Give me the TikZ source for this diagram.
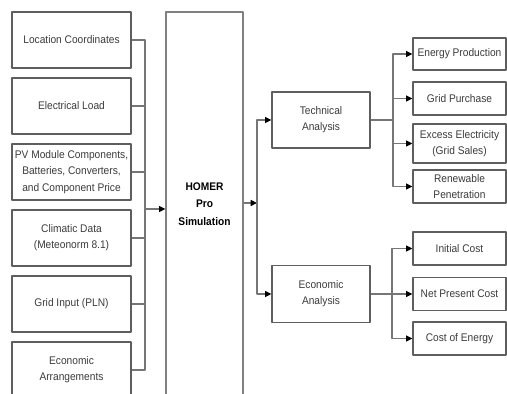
\documentclass[tikz,border=0pt]{standalone}
\usepackage{fontspec}
\setmainfont{Liberation Sans}[FakeStretch=0.92]
\usetikzlibrary{arrows.meta}
\definecolor{txtgray}{HTML}{3A3A3A}
\definecolor{linegray}{HTML}{767676}
\definecolor{boxgray}{HTML}{5E5E5E}
\begin{document}
\begin{tikzpicture}[x=0.02cm,y=-0.02cm,>={Triangle[length=3.6pt,width=3.4pt,color=black]},
  line join=round,font=\fontsize{6.3}{9.2}\selectfont,
  box/.style={draw=boxgray,line width=0.75pt,text=txtgray,align=center,inner sep=0pt},
  inbox/.style={box,minimum width=119*0.02cm,minimum height=56*0.02cm},
  outbox/.style={box,minimum width=93*0.02cm},
  link/.style={draw=linegray,line width=0.8pt}]
\useasboundingbox (0,0) rectangle (507,394);
\clip (0,0) rectangle (507,394);
% inputs
\node[inbox] (loc) at (71.5,40) {Location Coordinates};
\node[inbox] (load) at (71.5,106) {Electrical Load};
\node[inbox] (pv) at (71.5,172) {PV Module Components,\\ Batteries, Converters,\\ and Component Price};
\node[inbox] (clim) at (71.5,238) {Climatic Data\\ (Meteonorm 8.1)};
\node[inbox] (grid) at (71.5,304) {Grid Input (PLN)};
\node[inbox] (arr) at (71.5,370) {Economic\\ Arrangements};
% simulation
\node[box,draw=gray,minimum width=77*0.02cm,minimum height=384*0.02cm,text=black,font=\fontsize{6.3}{10}\selectfont\bfseries] (homer) at (204.5,204) {HOMER\\ Pro\\ Simulation};
% analysis
\node[box,minimum width=98*0.02cm,minimum height=56*0.02cm] (tech) at (321,120) {Technical\\ Analysis};
\node[box,minimum width=98*0.02cm,minimum height=57*0.02cm] (econ) at (321,294) {Economic\\ Analysis};
% results
\node[outbox,minimum height=32*0.02cm] (energy) at (459.5,54) {Energy Production};
\node[outbox,minimum height=33*0.02cm] (purch) at (459.5,98.5) {Grid Purchase};
\node[outbox,minimum height=39*0.02cm] (excess) at (459.5,143.5) {Excess Electricity\\ (Grid Sales)};
\node[outbox,minimum height=33*0.02cm] (renew) at (459.5,186.5) {Renewable\\ Penetration};
\node[outbox,minimum height=33*0.02cm] (init) at (459.5,248.5) {Initial Cost};
\node[outbox,minimum height=33*0.02cm] (npc) at (459.5,294) {Net Present Cost};
\node[outbox,minimum height=33*0.02cm] (coe) at (459.5,338.5) {Cost of Energy};
% connectors
\coordinate (inbus) at (145,209);
\coordinate (outbus) at (257,203);
\coordinate (techbus) at (393,120);
\coordinate (econbus) at (392,294);
\foreach \n in {loc,load,pv,clim,grid,arr}
  \draw[link] (\n.east) -| (inbus);
\draw[link,->] (inbus) -- (inbus -| homer.west);
\draw[link,->] (outbus -| homer.east) -- (outbus);
\draw[link,->] (outbus) |- (tech.west);
\draw[link,->] (outbus) |- (econ.west);
\draw[link] (tech.east) -- (techbus);
\foreach \n in {energy,purch,excess,renew}
  \draw[link,->] (techbus) |- (\n.west);
\draw[link,->] (econ.east) -- (npc.west);
\draw[link,->] (econbus) |- (init.west);
\draw[link,->] (econbus) |- (coe.west);
\end{tikzpicture}
\end{document}
